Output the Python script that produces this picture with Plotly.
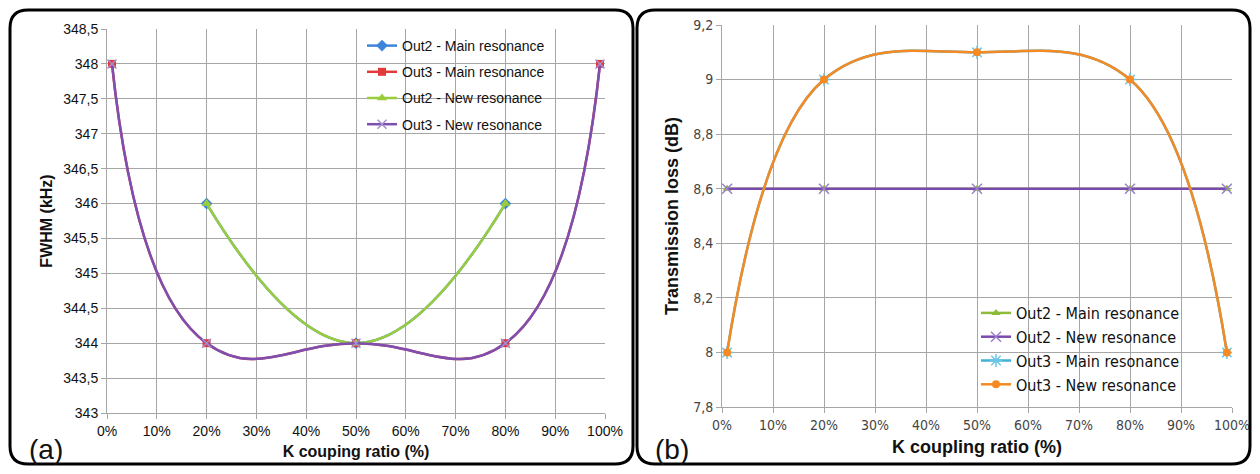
import plotly.graph_objects as go

# page body has an 8px margin; keep the figure inside the window (no scrollbars)
OFF = 8
W, H = 1260 - 2 * OFF, 474 - 2 * OFF

# ---- data ----
k_ratio = [1, 20, 50, 80, 99]
k_ratio_mid = [20, 50, 80]

a_out2_main = [346, 344, 346]
a_out3_main = [348, 344, 344, 344, 348]
a_out2_new = [346, 344, 346]
a_out3_new = [348, 344, 344, 344, 348]

b_out2_main = [8.6, 8.6, 8.6, 8.6, 8.6]
b_out2_new = [8.6, 8.6, 8.6, 8.6, 8.6]
b_out3_main = [8.0, 9.0, 9.1, 9.0, 8.0]
b_out3_new = [8.0, 9.0, 9.1, 9.0, 8.0]

x_ticks = [0, 10, 20, 30, 40, 50, 60, 70, 80, 90, 100]
x_ticktext = [f"{v}%" for v in x_ticks]
a_yticks = [343, 343.5, 344, 344.5, 345, 345.5, 346, 346.5, 347, 347.5, 348, 348.5]
a_ytext = ["343", "343,5", "344", "344,5", "345", "345,5", "346", "346,5", "347", "347,5", "348", "348,5"]
b_yticks = [7.8, 8.0, 8.2, 8.4, 8.6, 8.8, 9.0, 9.2]
b_ytext = ["7,8", "8", "8,2", "8,4", "8,6", "8,8", "9", "9,2"]


def px(x):
    return (x - OFF) / W


def py(y):
    return 1 - (y - OFF) / H


fig = go.Figure()

FONT = "Liberation Sans, Arial, sans-serif"
FONT_B = "DejaVu Sans Condensed, Liberation Sans, sans-serif"

# ---- panel (a) ----
fig.add_trace(go.Scatter(x=k_ratio_mid, y=a_out2_main, name="Out2 - Main resonance", legendgroup="a1",
                         mode="lines+markers", line=dict(color="#3d85d8", width=2.5, shape="spline", smoothing=1.3),
                         marker=dict(symbol="diamond", size=9, color="#3d85d8"),
                         xaxis="x", yaxis="y", legend="legend"))
fig.add_trace(go.Scatter(x=k_ratio, y=a_out3_main, name="Out3 - Main resonance", legendgroup="a2",
                         mode="lines+markers", line=dict(color="#e23a3a", width=2.5, shape="spline", smoothing=1.3),
                         marker=dict(symbol="square", size=8, color="#e23a3a"),
                         xaxis="x", yaxis="y", legend="legend"))
fig.add_trace(go.Scatter(x=k_ratio_mid, y=a_out2_new, name="Out2 - New resonance", legendgroup="a3",
                         mode="lines+markers", line=dict(color="#9acd3c", width=2.5, shape="spline", smoothing=1.3),
                         marker=dict(symbol="triangle-up", size=9, color="#9acd3c"),
                         xaxis="x", yaxis="y", legend="legend"))
fig.add_trace(go.Scatter(x=k_ratio, y=a_out3_new, name="Out3 - New resonance", legendgroup="a4",
                         mode="lines+markers", line=dict(color="#7d4fb0", width=2.5, shape="spline", smoothing=1.3),
                         marker=dict(symbol="x-thin", size=9, color="#a58fd0",
                                     line=dict(color="#a58fd0", width=1.5)),
                         xaxis="x", yaxis="y", legend="legend"))

# ---- panel (b) ----
fig.add_trace(go.Scatter(x=k_ratio, y=b_out2_main, name="Out2 - Main resonance",
                         mode="lines+markers", line=dict(color="#8dbb3a", width=2.5),
                         marker=dict(symbol="triangle-up", size=8, color="#8dbb3a"),
                         xaxis="x2", yaxis="y2", legend="legend2"))
fig.add_trace(go.Scatter(x=k_ratio, y=b_out2_new, name="Out2 - New resonance",
                         mode="lines+markers", line=dict(color="#7a4ab0", width=2.5),
                         marker=dict(symbol="x-thin", size=10, color="#9a80cc",
                                     line=dict(color="#9a80cc", width=1.5)),
                         xaxis="x2", yaxis="y2", legend="legend2"))
fig.add_trace(go.Scatter(x=k_ratio, y=b_out3_main, name="Out3 - Main resonance",
                         mode="lines+markers", line=dict(color="#3fb0d8", width=2.5, shape="spline", smoothing=1.15),
                         marker=dict(symbol="asterisk", size=11, color="#6cc6e6",
                                     line=dict(color="#6cc6e6", width=1.5)),
                         xaxis="x2", yaxis="y2", legend="legend2"))
fig.add_trace(go.Scatter(x=k_ratio, y=b_out3_new, name="Out3 - New resonance",
                         mode="lines+markers", line=dict(color="#f68a22", width=2.5, shape="spline", smoothing=1.15),
                         marker=dict(symbol="circle", size=8, color="#f68a22"),
                         xaxis="x2", yaxis="y2", legend="legend2"))

grid = "#a6a6a6"
common_x = dict(range=[0, 100], tickvals=x_ticks, ticktext=x_ticktext, showgrid=True,
                gridcolor=grid, gridwidth=1, showline=True, linecolor=grid, linewidth=1,
                ticks="outside", ticklen=5, tickcolor=grid, zeroline=False, fixedrange=True,
                automargin=False)
common_y = dict(showgrid=True, gridcolor=grid, gridwidth=1, showline=True, linecolor=grid,
                linewidth=1, ticks="outside", ticklen=5, tickcolor=grid, zeroline=False, fixedrange=True,
                automargin=False)

fig.update_layout(
    width=W, height=H,
    margin=dict(l=0, r=0, t=0, b=0, autoexpand=False),
    paper_bgcolor="white", plot_bgcolor="white",
    font=dict(family=FONT, color="#222222"),
    showlegend=True,
    xaxis=dict(domain=[px(107), px(605)], anchor="y",
               tickfont=dict(size=14, color="#111111", family=FONT),
               title=dict(text="<b>K couping ratio (%)</b>", font=dict(size=16, color="#111111"), standoff=8),
               **common_x),
    yaxis=dict(domain=[py(413), py(29)], anchor="x", range=[343, 348.5],
               tickvals=a_yticks, ticktext=a_ytext,
               tickfont=dict(size=14, color="#111111", family=FONT),
               title=dict(text="<b>FWHM (kHz)</b>", font=dict(size=16, color="#111111"), standoff=6),
               **common_y),
    xaxis2=dict(domain=[px(722), px(1232)], anchor="y2",
                tickfont=dict(size=14, color="#444444", family=FONT_B),
                title=dict(text="<b>K coupling ratio (%)</b>", font=dict(size=18, color="#111111"), standoff=8),
                **common_x),
    yaxis2=dict(domain=[py(407), py(25)], anchor="x2", range=[7.8, 9.2],
                tickvals=b_yticks, ticktext=b_ytext,
                tickfont=dict(size=14, color="#444444", family=FONT_B),
                title=dict(text="<b>Transmission loss (dB)</b>", font=dict(size=18, color="#111111"), standoff=9),
                **common_y),
    legend=dict(x=px(362), y=py(30), xanchor="left", yanchor="top", bgcolor="rgba(0,0,0,0)",
                font=dict(size=14, color="#111111", family=FONT), tracegroupgap=5,
                itemwidth=30, traceorder="grouped"),
    legend2=dict(x=px(976), y=py(296), xanchor="left", yanchor="top", bgcolor="rgba(0,0,0,0)",
                 font=dict(size=16, color="#111111", family=FONT_B),
                 itemwidth=30, traceorder="normal"),
)


def rounded_rect(x0, y0, x1, y1, r):
    X0, X1 = px(x0), px(x1)
    Y0, Y1 = py(y0), py(y1)
    rx, ry = r / W, r / H
    return (f"M {X0+rx},{Y0} L {X1-rx},{Y0} Q {X1},{Y0} {X1},{Y0-ry} "
            f"L {X1},{Y1+ry} Q {X1},{Y1} {X1-rx},{Y1} L {X0+rx},{Y1} "
            f"Q {X0},{Y1} {X0},{Y1+ry} L {X0},{Y0-ry} Q {X0},{Y0} {X0+rx},{Y0} Z")


fig.add_shape(type="path", xref="paper", yref="paper", path=rounded_rect(10, 10, 633, 464, 18),
              line=dict(color="black", width=3), layer="above")
fig.add_shape(type="path", xref="paper", yref="paper", path=rounded_rect(637, 10, 1250, 464, 18),
              line=dict(color="black", width=3), layer="above")

fig.add_annotation(text="(a)", x=px(27), y=py(449), xref="paper", yref="paper",
                   xanchor="left", yanchor="middle", showarrow=False,
                   font=dict(size=28, color="#111111", family=FONT))
fig.add_annotation(text="(b)", x=px(653), y=py(449), xref="paper", yref="paper",
                   xanchor="left", yanchor="middle", showarrow=False,
                   font=dict(size=28, color="#111111", family=FONT))

fig.write_html("out.html")
